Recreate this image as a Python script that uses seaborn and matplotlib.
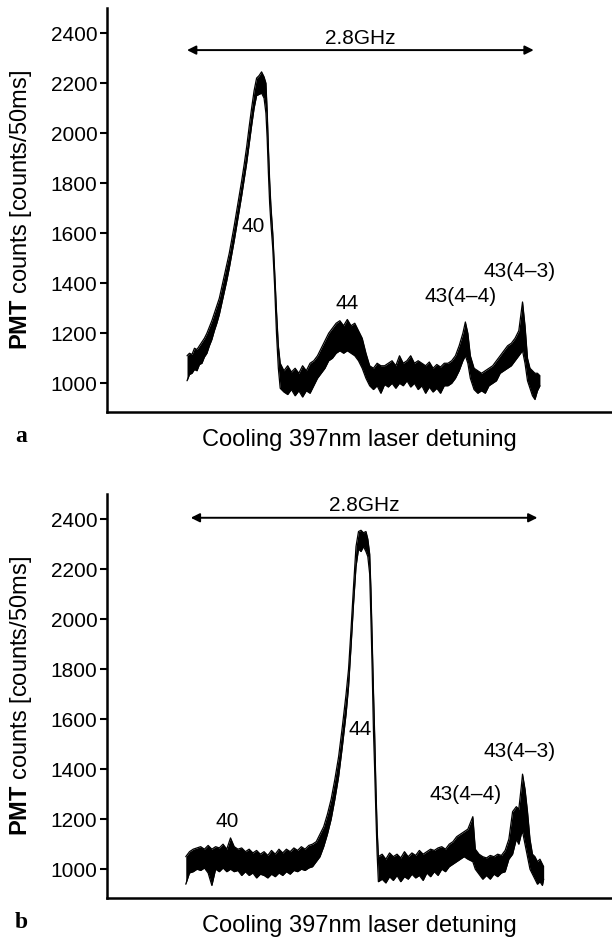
import matplotlib
matplotlib.use('Agg')
import numpy as np
import pandas as pd
import matplotlib.pyplot as plt
import seaborn as sns

# ---------------------------------------------------------
# data (x = detuning in GHz, lo/hi = noise band edges)
# ---------------------------------------------------------
xa = [0.00, 0.02, 0.04, 0.06, 0.08, 0.10, 0.12, 0.14, 0.16, 0.18, 0.20, 0.22, 0.24, 0.26,
      0.28, 0.30, 0.32, 0.34, 0.36, 0.38, 0.40, 0.42, 0.44, 0.46, 0.48, 0.50, 0.52, 0.54,
      0.56, 0.58, 0.60, 0.62, 0.635, 0.645, 0.655, 0.665, 0.675, 0.69, 0.705, 0.72, 0.735,
      0.75, 0.78, 0.81, 0.84, 0.87, 0.90, 0.93, 0.96, 0.99, 1.02, 1.05, 1.08, 1.11, 1.14,
      1.17, 1.20, 1.23, 1.26, 1.29, 1.32, 1.35, 1.38, 1.41, 1.44, 1.47, 1.50, 1.53, 1.56,
      1.59, 1.62, 1.65, 1.68, 1.71, 1.74, 1.77, 1.80, 1.83, 1.86, 1.89, 1.92, 1.95, 1.98,
      2.01, 2.04, 2.07, 2.10, 2.13, 2.16, 2.19, 2.22, 2.24, 2.26, 2.28, 2.31, 2.34, 2.37,
      2.40, 2.43, 2.46, 2.49, 2.52, 2.55, 2.58, 2.61, 2.64, 2.67, 2.70, 2.72, 2.74, 2.76,
      2.78, 2.80, 2.82, 2.84]
lo_a = [1010, 1035, 1040, 1055, 1050, 1075, 1080, 1105, 1120, 1150, 1175, 1210, 1240, 1275,
        1320, 1365, 1410, 1460, 1515, 1570, 1630, 1690, 1750, 1815, 1880, 1955, 2030, 2100,
        2150, 2155, 2160, 2140, 2080, 1980, 1840, 1720, 1640, 1540, 1390, 1200, 1060,
        980, 965, 955, 975, 950, 970, 945, 970, 960, 990, 1020, 1040, 1060, 1090,
        1100, 1120, 1130, 1120, 1130, 1120, 1110, 1090, 1060, 1020, 990, 975, 990, 960,
        995, 985, 1000, 980, 1000, 990, 1010, 985, 1000, 975, 990, 960, 985, 965,
        980, 960, 990, 990, 1000, 1020, 1050, 1090, 1110, 1080, 1020, 975, 960, 970,
        960, 990, 1000, 1010, 1040, 1050, 1060, 1070, 1090, 1110, 1130, 1080, 1010, 980,
        950, 935, 970, 990]
hi_a = [1110, 1120, 1115, 1140, 1135, 1150, 1165, 1180, 1200, 1225, 1250, 1280, 1310, 1340,
        1385, 1430, 1475, 1520, 1575, 1630, 1690, 1750, 1810, 1875, 1945, 2025, 2100, 2170,
        2220, 2230, 2245, 2225, 2200, 2090, 1940, 1810, 1710, 1600, 1450, 1290, 1150,
        1080, 1050, 1070, 1045, 1060, 1040, 1070, 1050, 1080, 1090, 1110, 1140, 1170, 1200,
        1220, 1240, 1250, 1230, 1255, 1230, 1240, 1210, 1180, 1120, 1070, 1060, 1080, 1070,
        1070, 1080, 1090, 1070, 1110, 1080, 1090, 1110, 1080, 1090, 1080, 1070, 1085, 1060,
        1075, 1065, 1080, 1080, 1090, 1110, 1150, 1200, 1245, 1200, 1110, 1060, 1050, 1040,
        1050, 1060, 1070, 1090, 1110, 1130, 1150, 1160, 1180, 1210, 1325, 1230, 1100, 1060,
        1050, 1040, 1040, 1030]

xb = [-0.01, 0.02, 0.05, 0.08, 0.11, 0.14, 0.17, 0.20, 0.23, 0.26, 0.29, 0.32, 0.35, 0.38,
      0.41, 0.44, 0.47, 0.50, 0.53, 0.56, 0.59, 0.62, 0.65, 0.68, 0.71, 0.74, 0.77, 0.80,
      0.83, 0.86, 0.89, 0.92, 0.95, 0.98, 1.01, 1.04, 1.07, 1.10, 1.13, 1.16, 1.19, 1.22,
      1.25, 1.28, 1.30, 1.32, 1.34, 1.36, 1.38, 1.40, 1.42, 1.44, 1.455, 1.47, 1.48, 1.49,
      1.50, 1.51, 1.52, 1.53, 1.54, 1.57, 1.60, 1.63, 1.66, 1.69, 1.72, 1.75, 1.78, 1.81,
      1.84, 1.87, 1.90, 1.93, 1.96, 1.99, 2.02, 2.05, 2.08, 2.11, 2.14, 2.17, 2.20, 2.23,
      2.26, 2.30, 2.32, 2.35, 2.38, 2.41, 2.44, 2.47, 2.50, 2.53, 2.56, 2.59, 2.62, 2.65,
      2.67, 2.69, 2.70, 2.72, 2.74, 2.76, 2.78, 2.80, 2.82, 2.84, 2.86, 2.87]
lo_b = [940, 985, 990, 1000, 995, 1005, 985, 935, 1000, 990, 1005, 990, 1000, 990,
        995, 975, 990, 975, 985, 965, 980, 975, 965, 980, 970, 985, 975, 990,
        980, 995, 990, 1000, 995, 1005, 1010, 1030, 1050, 1090, 1140, 1200, 1280, 1370,
        1490, 1620, 1730, 1890, 2060, 2210, 2280, 2270, 2290, 2270, 2250, 2180, 2000, 1800,
        1560, 1400, 1220, 1060, 950, 960, 945, 970, 955, 975, 950, 970, 960, 980,
        965, 975, 955, 985, 970, 990, 975, 1000, 990, 1010, 1020, 1030, 1040, 1050,
        1040, 1030, 1000, 980, 960, 975, 960, 980, 970, 985, 990, 1040, 1060, 1120,
        1100, 1140, 1150, 1100, 1050, 1000, 980, 960, 940, 950, 935, 960]
hi_b = [1050, 1070, 1080, 1085, 1090, 1080, 1095, 1080, 1090, 1085, 1100, 1080, 1125, 1090,
        1080, 1085, 1070, 1080, 1065, 1075, 1060, 1070, 1055, 1075, 1060, 1080, 1065, 1080,
        1070, 1085, 1075, 1090, 1080, 1095, 1100, 1110, 1140, 1170, 1220, 1280, 1360, 1450,
        1570, 1700, 1800, 1960, 2130, 2290, 2350, 2355, 2345, 2350, 2320, 2260, 2120, 1920,
        1720, 1540, 1330, 1160, 1050, 1060, 1040, 1065, 1050, 1060, 1045, 1070, 1050, 1065,
        1055, 1075, 1060, 1070, 1080, 1075, 1085, 1090, 1080, 1100, 1110, 1130, 1140, 1150,
        1160, 1210, 1080, 1060, 1050, 1045, 1055, 1050, 1060, 1055, 1075, 1120, 1230, 1250,
        1240, 1330, 1380, 1320, 1230, 1120, 1060, 1050, 1030, 1040, 1020, 1010]

# peak labels (text, x, y)
peaks_a = ['40', '44', '43(4\u20134)', '43(4\u20133)']
peaks_a_x = [0.535, 1.29, 2.20, 2.68]
peaks_a_y = [1625, 1320, 1345, 1446]
peaks_b = ['40', '44', '43(4\u20134)', '43(4\u20133)']
peaks_b_x = [0.32, 1.39, 2.24, 2.68]
peaks_b_y = [1190, 1560, 1300, 1472]

# 2.8 GHz span marker (x0, x1, y)
span_a = [0.0, 2.79, 2332]
span_b = [0.03, 2.82, 2405]

# ---------------------------------------------------------
# figure
# ---------------------------------------------------------
sns.set_theme(style='ticks', rc={'text.color': 'black', 'axes.labelcolor': 'black',
                                 'axes.edgecolor': 'black', 'ytick.color': 'black',
                                 'xtick.color': 'black'})
plt.rcParams['font.family'] = ['Liberation Sans', 'DejaVu Sans']
plt.rcParams['mathtext.fontset'] = 'custom'
plt.rcParams['mathtext.rm'] = 'Liberation Sans'
plt.rcParams['mathtext.bf'] = 'Liberation Sans:bold'

fig = plt.figure(figsize=(6.12, 9.39), dpi=100)
ax_a = fig.add_axes([0.1748, 0.5612, 0.8252, 0.4302])
ax_b = fig.add_axes([0.1748, 0.0437, 0.8252, 0.4302])


def draw_panel(ax, x, lo, hi, names, px, py, span, tag):
    df = pd.DataFrame({'x': x, 'lo': lo, 'hi': hi})
    ax.fill_between(df['x'], df['lo'], df['hi'], color='black', linewidth=0)
    sns.lineplot(data=df, x='x', y='lo', ax=ax, color='black', lw=0.9, estimator=None)
    sns.lineplot(data=df, x='x', y='hi', ax=ax, color='black', lw=0.9, estimator=None)

    for t, xx, yy in zip(names, px, py):
        ax.text(xx, yy, t, ha='center', va='center', fontsize=15, color='black')

    ax.annotate('', xy=(span[1], span[2]), xytext=(span[0], span[2]),
                arrowprops=dict(arrowstyle='<|-|>', color='black', lw=1.4,
                                mutation_scale=13, shrinkA=0, shrinkB=0))
    ax.text((span[0] + span[1]) / 2, span[2] + 48, '2.8GHz', ha='center', va='center',
            fontsize=15, color='black')

    ax.set_xlim(-0.644, 3.42)
    ax.set_ylim(885, 2500)
    ax.set_yticks([1000, 1200, 1400, 1600, 1800, 2000, 2200, 2400])
    ax.set_xticks([])
    ax.tick_params(axis='y', direction='out', length=5, width=1.5, pad=2, labelsize=15,
                   colors='black')
    sns.despine(ax=ax)
    for s in ['left', 'bottom']:
        ax.spines[s].set_linewidth(1.8)
        ax.spines[s].set_color('black')
    ax.set_xlabel('Cooling 397nm laser detuning', fontsize=17, labelpad=12, color='black')
    ax.set_ylabel(r'$\mathbf{PMT}$ counts [counts/50ms]', fontsize=17, color='black')
    ax.yaxis.set_label_coords(-0.144, 0.5)
    ax.text(-0.182, -0.06, tag, transform=ax.transAxes, ha='left', va='center',
            fontsize=17, fontweight='bold', family='Liberation Serif', color='black')


draw_panel(ax_a, xa, lo_a, hi_a, peaks_a, peaks_a_x, peaks_a_y, span_a, 'a')
draw_panel(ax_b, xb, lo_b, hi_b, peaks_b, peaks_b_x, peaks_b_y, span_b, 'b')

fig.savefig('out.png', dpi=100)
